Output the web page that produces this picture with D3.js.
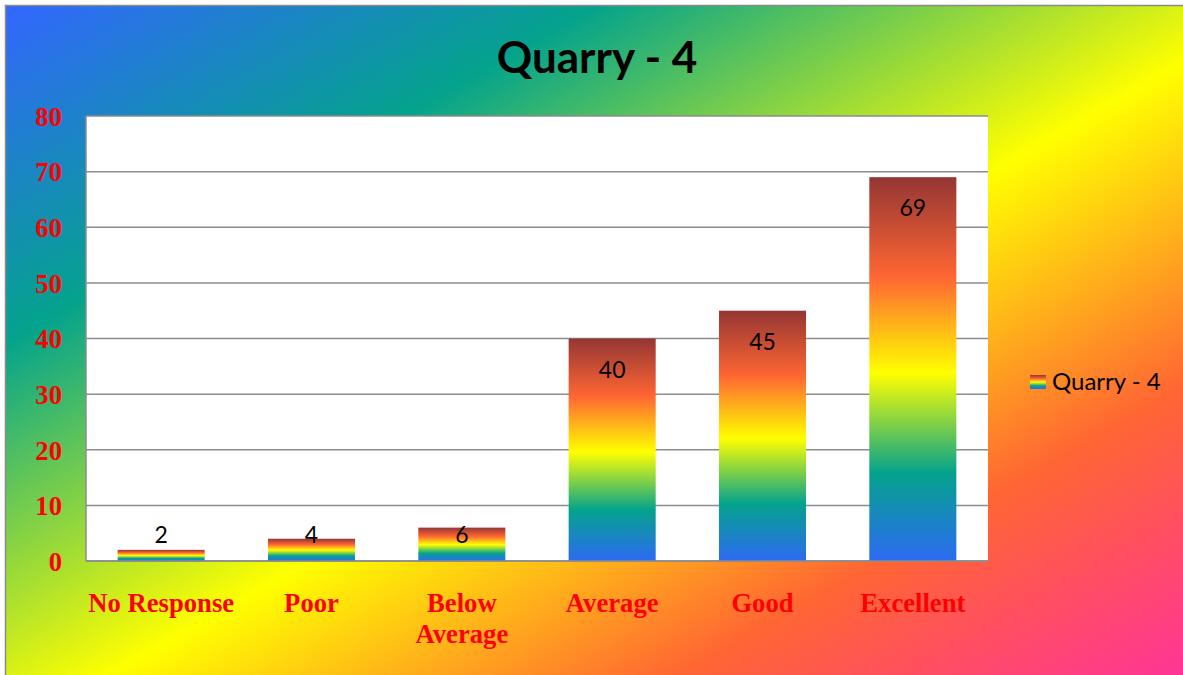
<!DOCTYPE html>
<html>
<head>
<meta charset="utf-8">
<script src="https://cdn.jsdelivr.net/npm/d3@7"></script>
<style>
html,body{margin:0;padding:0;background:#ffffff;}
svg{display:block;}
</style>
</head>
<body>
<svg id="chart" width="1183" height="675"></svg>
<script>
const titleText = "Quarry - 4";
const seriesName = "Quarry - 4";
const categories = ["No Response", "Poor", "Below Average", "Average", "Good", "Excellent"];
const values = [2, 4, 6, 40, 45, 69];
const yTicks = [0, 10, 20, 30, 40, 50, 60, 70, 80];

const W = 1183, H = 675;
const plot = {left: 86, top: 116, right: 988, bottom: 561};

const svg = d3.select("#chart");
const defs = svg.append("defs");

const bg = defs.append("linearGradient").attr("id", "bgGrad")
  .attr("x1", 0).attr("y1", 0).attr("x2", 1).attr("y2", 1);
[[0, "#3366FF"], [0.25, "#04A38C"], [0.54, "#FFFF00"], [0.78, "#FF6633"], [1, "#FF3399"]]
  .forEach(([o, c]) => bg.append("stop").attr("offset", o).attr("stop-color", c));

const barG = defs.append("linearGradient").attr("id", "barGrad")
  .attr("x1", 0).attr("y1", 1).attr("x2", 0).attr("y2", 0);
[[0, "#2D6AF2"], [0.23, "#04A38C"], [0.49, "#FFFF00"], [0.74, "#FF6633"], [1, "#943634"]]
  .forEach(([o, c]) => barG.append("stop").attr("offset", o).attr("stop-color", c));

// chart area background
svg.append("rect").attr("x", 5.5).attr("y", 5.5).attr("width", W).attr("height", H)
  .attr("fill", "url(#bgGrad)").attr("stroke", "#8a8a8a").attr("stroke-width", 1.5);

// title
svg.append("text").attr("x", 597).attr("y", 73).attr("text-anchor", "middle")
  .attr("font-family", "Lato, 'Open Sans', sans-serif").attr("font-weight", "bold")
  .attr("font-size", 44).attr("fill", "#000").text(titleText);

const x = d3.scaleBand().domain(categories).range([plot.left, plot.right])
  .paddingInner(0.421).paddingOuter(0.2105);
const y = d3.scaleLinear().domain([0, 80]).range([plot.bottom, plot.top]);

// plot area
svg.append("rect").attr("x", plot.left).attr("y", plot.top)
  .attr("width", plot.right - plot.left).attr("height", plot.bottom - plot.top)
  .attr("fill", "#ffffff");

// gridlines
svg.append("g").selectAll("line").data(yTicks).join("line")
  .attr("x1", plot.left).attr("x2", plot.right)
  .attr("y1", d => y(d)).attr("y2", d => y(d))
  .attr("stroke", "#8c8c8c").attr("stroke-width", 1.5);

// y axis line
svg.append("line").attr("x1", plot.left).attr("x2", plot.left)
  .attr("y1", plot.top).attr("y2", plot.bottom)
  .attr("stroke", "#8c8c8c").attr("stroke-width", 1.5);

// y axis labels
const yAxis = d3.axisLeft(y).tickValues(yTicks).tickSize(0).tickPadding(24);
const yg = svg.append("g").attr("transform", `translate(${plot.left},0)`).call(yAxis);
yg.select(".domain").remove();
yg.selectAll("text").attr("font-family", "'Liberation Serif', 'Times New Roman', serif")
  .attr("font-weight", "bold").attr("font-size", 26.67).attr("fill", "#FF0000")
  .attr("dy", "0.35em");

// bars
svg.append("g").selectAll("rect").data(values).join("rect")
  .attr("x", (d, i) => x(categories[i]))
  .attr("width", x.bandwidth())
  .attr("y", d => y(d))
  .attr("height", d => y(0) - y(d))
  .attr("fill", "url(#barGrad)");

// baseline
svg.append("line").attr("x1", plot.left).attr("x2", plot.right)
  .attr("y1", y(0)).attr("y2", y(0))
  .attr("stroke", "#8c8c8c").attr("stroke-width", 1.5);

// value labels
svg.append("g").selectAll("text").data(values).join("text")
  .attr("x", (d, i) => x(categories[i]) + x.bandwidth() / 2)
  .attr("y", d => Math.min(y(d) + 31, y(0) - 26))
  .attr("dy", "0.35em")
  .attr("text-anchor", "middle")
  .attr("font-family", "Lato, 'Open Sans', sans-serif")
  .attr("font-size", 23).attr("fill", "#000")
  .text(d => d);

// x axis labels with wrapping
const xAxis = d3.axisBottom(x).tickSize(0).tickPadding(0);
const xg = svg.append("g").attr("transform", `translate(0,${plot.bottom})`).call(xAxis);
xg.select(".domain").remove();
xg.selectAll("text")
  .attr("font-family", "'Liberation Serif', 'Times New Roman', serif")
  .attr("font-weight", "bold").attr("font-size", 26.67).attr("fill", "#FF0000")
  .attr("y", 51).attr("dy", 0)
  .each(function (d) {
    const t = d3.select(this);
    const words = d.split(" ");
    t.text(null);
    let line = [];
    let tspan = t.append("tspan").attr("x", 0).attr("y", 51);
    let lineNo = 0;
    words.forEach(w => {
      line.push(w);
      tspan.text(line.join(" "));
      if (tspan.node().getComputedTextLength() > x.step() && line.length > 1) {
        line.pop();
        tspan.text(line.join(" "));
        line = [w];
        lineNo++;
        tspan = t.append("tspan").attr("x", 0).attr("y", 51 + lineNo * 31).text(w);
      }
    });
  });

// legend
const lg = svg.append("g");
lg.append("rect").attr("x", 1030).attr("y", 375).attr("width", 16).attr("height", 14)
  .attr("fill", "url(#barGrad)");
lg.append("text").attr("x", 1052).attr("y", 382).attr("dy", "0.35em")
  .attr("font-family", "Lato, 'Open Sans', sans-serif")
  .attr("font-size", 24).attr("fill", "#000").text(seriesName);
</script>
</body>
</html>
